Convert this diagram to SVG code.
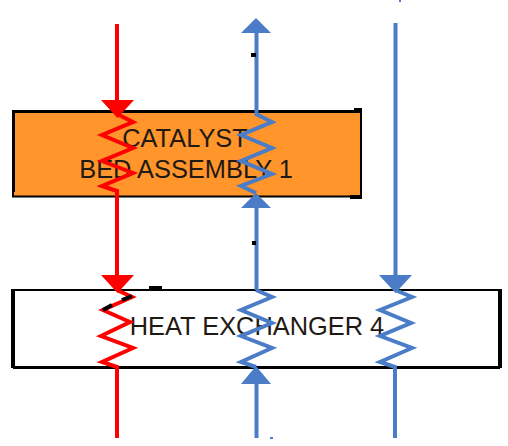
<svg xmlns="http://www.w3.org/2000/svg" width="508" height="446" viewBox="0 0 508 446">
<style>
.box{stroke:#000;stroke-width:2}
.edge{fill:#000}
.label{font-family:"Liberation Sans",Arial,sans-serif;font-size:25.4px;fill:#1f1a14;text-anchor:middle}
.pipe{fill:none;stroke-width:4;stroke-linejoin:miter}
.red{stroke:#ff0000}
.blue{stroke:#4a7cc7}
.redf{fill:#ff0000}
.bluef{fill:#4a7cc7}
</style>
<rect width="508" height="446" fill="#fff"/>
<g id="catalyst-bed">
<rect class="box" x="13" y="111.500" width="348" height="85" fill="#ff952b"/>
<rect class="edge" x="12" y="110" width="3" height="82"/>
<rect class="edge" x="13" y="110" width="348" height="3"/>
<rect class="edge" x="354" y="108" width="8" height="4"/>
<rect class="edge" x="350" y="195" width="12" height="4"/>
<text class="label" x="185" y="147">CATALYST</text>
<text class="label" x="186" y="178">BED ASSEMBLY 1</text>
</g>
<g id="heat-exchanger">
<rect class="box" x="13" y="290" width="487" height="77" fill="#fff"/>
<rect class="edge" x="11" y="289" width="4" height="79"/>
<rect class="edge" x="13" y="366" width="487" height="3"/>
<rect class="edge" x="498" y="289" width="4" height="79"/>
<rect class="edge" x="149" y="286" width="13" height="3"/>
<text class="label" x="257" y="335">HEAT EXCHANGER 4</text>
</g>
<g id="connectors">
<path class="pipe red" d="M117 24V105"/>
<path class="redf" d="M101 100H134L117.500 118Z"/>
<path class="pipe red" d="M117 114L133 122L102 135L133 148L102 161L133 173L102 186L117 191V275"/>
<path class="redf" d="M101 275H134L117.500 293Z"/>
<path class="pipe red" d="M117 290L132 297L103 310L130 322L101 336L133 348L102 362L117 367V438"/>
<path d="M122 300L132 296M103 310L112 305" fill="none" stroke="#000" stroke-width="4"/>
<path class="pipe blue" d="M256.500 30V116"/>
<path class="bluef" d="M241 33L256 18L271 33Z"/>
<path class="pipe blue" d="M256 114L272 122L241 135L272 148L241 161L272 174L241 186L256 193"/>
<path class="bluef" d="M241 208L256 193L271 208Z"/>
<path class="pipe blue" d="M256.500 208V290"/>
<path class="pipe blue" d="M256 290L272 297L241 310L272 323L241 336L272 348L241 362L256 367"/>
<path class="bluef" d="M241 384L256 366L271 384Z"/>
<path class="pipe blue" d="M256.500 384V438"/>
<path class="pipe blue" d="M395.500 23V280"/>
<path class="bluef" d="M379 275H412L395.500 293Z"/>
<path class="pipe blue" d="M395 290L412 297L380 310L411 323L380 336L412 348L380 362L395 367V438"/>
<rect class="edge" x="251" y="53" width="5" height="4"/>
<rect class="edge" x="252" y="241" width="4" height="4"/>
<rect class="bluef" x="399" y="0" width="2" height="2"/>
<rect class="bluef" x="270" y="437" width="3" height="2"/>
</g>
</svg>
